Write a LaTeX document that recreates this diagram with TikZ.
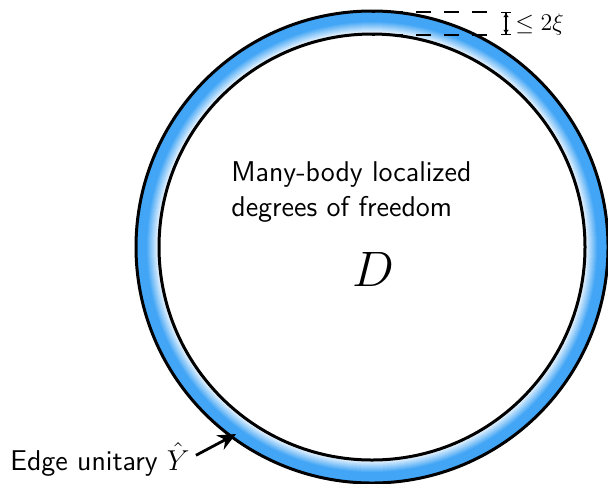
\documentclass[tikz,border=0pt]{standalone}
\usetikzlibrary{arrows.meta}
\definecolor{ringblue}{RGB}{66,165,245}
\begin{document}
\begin{tikzpicture}[x=0.5pt,y=-0.5pt,
  edge/.style={line width=1.5pt},
  guide/.style={line width=1pt, dash pattern=on 7.5pt off 6.5pt},
  lab/.style={font=\sffamily\fontsize{14.3}{17.5}\selectfont, inner sep=0pt}]
\useasboundingbox (0,0) rectangle (608,483);
\coordinate (c) at (372,247);
\foreach \i in {23,...,0}{
  \pgfmathsetmacro\p{min(100,100*\i/13)}
  \fill[ringblue!\p!white] (c) circle[radius={(213+\i)*0.5pt}];
}
\fill[white] (c) circle[radius=106.5pt];
\draw[edge] (c) circle[radius=118pt];
\draw[edge] (c) circle[radius=106.5pt];
\coordinate (t1) at (372,12);
\coordinate (t1e) at (487,12);
\coordinate (t2) at (372,35);
\coordinate (t2e) at (487,35);
\draw[guide] (t1e) -- (t1);
\draw[guide] (t2e) -- (t2);
\coordinate (b1) at (506,12);
\coordinate (b2) at (506,35);
\draw[{Bar[width=5pt]Latex[length=2pt,width=3pt]}-{Latex[length=2pt,width=3pt]Bar[width=5pt]}, line width=0.6pt] (b1) -- (b2);
\node[anchor=west, font=\fontsize{12}{14}\selectfont, inner sep=0pt] (eps) at (515,24) {$\leq 2\xi$};
\node[lab, anchor=north west, align=left] (mbl) at (231,161) {Many-body localized\\degrees of freedom};
\node[font=\fontsize{26.5}{30}\selectfont, inner sep=0pt] (D) at (373,269) {$D$};
\node[lab, anchor=base west] (edge) at (10,470) {Edge unitary $\hat{Y}$};
\coordinate (tip) at (236,434);
\draw[line width=1.4pt, -{Stealth[length=9pt,width=8pt]}] ([xshift=3pt,yshift=2pt]edge.east) -- (tip);
\end{tikzpicture}
\end{document}
